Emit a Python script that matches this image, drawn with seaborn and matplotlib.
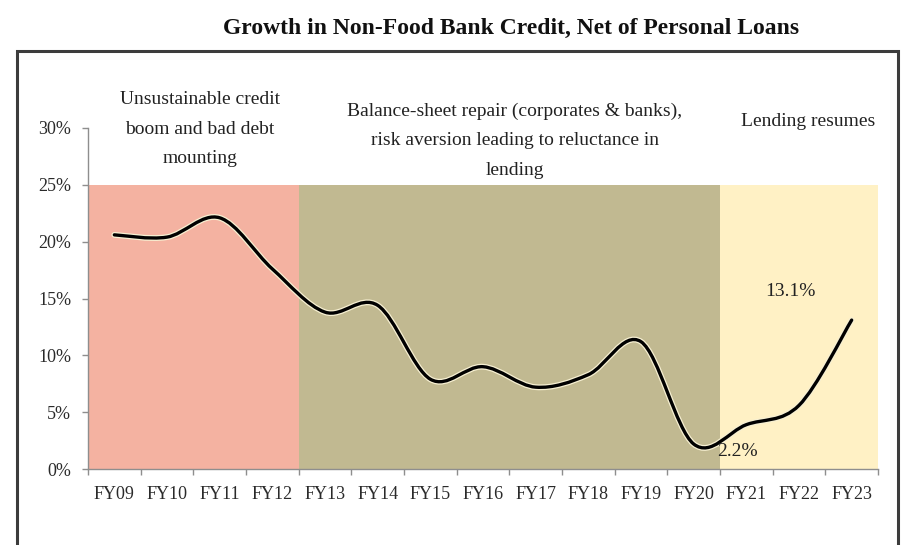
import matplotlib
matplotlib.use("Agg")
import matplotlib.pyplot as plt
import matplotlib.patheffects as pe
from matplotlib.path import Path
from matplotlib.patches import PathPatch, Rectangle
import numpy as np
import pandas as pd
import seaborn as sns

# Fiscal years and non-food bank credit growth net of personal loans (%)
years = ["FY09", "FY10", "FY11", "FY12", "FY13", "FY14", "FY15", "FY16",
         "FY17", "FY18", "FY19", "FY20", "FY21", "FY22", "FY23"]
growth = [20.6, 20.4, 22.1, 17.6, 13.8, 14.4, 7.9, 9.0,
          7.2, 8.3, 11.2, 2.2, 3.9, 5.6, 13.1]

# Lending phases and how many years each covers
phase_names = ["Unsustainable credit\nboom and bad debt\nmounting",
               "Balance-sheet repair (corporates & banks),\nrisk aversion leading to reluctance in\nlending",
               "Lending resumes"]
phase_years = [4, 8, 3]
phase_colors = ["#F4B2A1", "#C1B991", "#FFF1C5"]
band_top = 25

y_ticks = [0, 5, 10, 15, 20, 25, 30]
y_tick_labels = ["0%", "5%", "10%", "15%", "20%", "25%", "30%"]

sns.set_theme(style="white")
plt.rcParams["font.family"] = ["Liberation Serif", "DejaVu Serif"]

fig = plt.figure(figsize=(9.05, 5.45), dpi=100)
ax = fig.add_axes([88 / 905, 1 - 469 / 545, 790 / 905, 341 / 545])

# Shaded phase bands drawn as full-width bars
phase_of_year = [i for i, n in enumerate(phase_years) for _ in range(n)]
df = pd.DataFrame({"year": years, "band": [band_top] * len(years),
                   "phase": [str(p) for p in phase_of_year]})
sns.barplot(data=df, x="year", y="band", hue="phase", palette=phase_colors,
            dodge=False, width=1.0, saturation=1, legend=False,
            linewidth=0, ax=ax, zorder=1)

# Smoothed growth line (Catmull-Rom style cubic Bezier through each point)
x = np.arange(len(growth), dtype=float)
y = np.array(growth, dtype=float)
verts = [(x[0], y[0])]
codes = [Path.MOVETO]
n = len(x)
for i in range(n - 1):
    p0 = np.array([x[max(i - 1, 0)], y[max(i - 1, 0)]])
    p1 = np.array([x[i], y[i]])
    p2 = np.array([x[i + 1], y[i + 1]])
    p3 = np.array([x[min(i + 2, n - 1)], y[min(i + 2, n - 1)]])
    c1 = p1 + (p2 - p0) / 6.0
    c2 = p2 - (p3 - p1) / 6.0
    verts += [tuple(c1), tuple(c2), tuple(p2)]
    codes += [Path.CURVE4] * 3
curve = PathPatch(Path(verts, codes), fill=False, edgecolor="black",
                  linewidth=2.4, capstyle="round", joinstyle="round", zorder=3)
curve.set_path_effects([pe.Stroke(linewidth=4.2, foreground="#F7F0D2"), pe.Normal()])
ax.add_patch(curve)

ax.set_xlim(-0.5, len(years) - 0.5)
ax.set_ylim(0, 30)
ax.set_xlabel("")
ax.set_ylabel("")

# Axes styling
for side in ["top", "right"]:
    ax.spines[side].set_visible(False)
for side in ["left", "bottom"]:
    ax.spines[side].set_color("#8E8E8E")
    ax.spines[side].set_linewidth(1.0)

ax.set_yticks(y_ticks)
ax.set_yticklabels(y_tick_labels)
ax.tick_params(axis="y", which="major", left=True, length=4, width=1,
               color="#8E8E8E", labelsize=13, labelcolor="#2A2A2A", pad=8)

ax.set_xticks(np.arange(-0.5, len(years), 1.0))
ax.set_xticklabels([])
ax.set_xticks(np.arange(len(years)), minor=True)
ax.set_xticklabels(years, minor=True)
ax.tick_params(axis="x", which="major", bottom=True, length=4, width=1,
               color="#8E8E8E")
ax.tick_params(axis="x", which="minor", bottom=False, length=0,
               labelsize=13, labelcolor="#2A2A2A", pad=12)

# Phase descriptions above the bands
ax.text(1.63, 29.9, phase_names[0], ha="center", va="center", fontsize=14,
        color="#222222", linespacing=1.95, clip_on=False)
ax.text(7.6, 28.9, phase_names[1], ha="center", va="center", fontsize=14,
        color="#222222", linespacing=1.95, clip_on=False)
ax.text(13.17, 30.6, phase_names[2], ha="center", va="center", fontsize=14,
        color="#222222", clip_on=False)

# Value labels
ax.text(12.84, 15.6, f"{growth[-1]:.1f}%", ha="center", va="center",
        fontsize=14, color="#222222")
ax.text(11.84, 1.5, f"{growth[11]:.1f}%", ha="center", va="center",
        fontsize=14, color="#222222", zorder=4)

# Title and outer frame
fig.text(511 / 905, 1 - 28 / 545,
         "Growth in Non-Food Bank Credit, Net of Personal Loans",
         ha="center", va="center", fontsize=17, fontweight="bold",
         color="#111111")
fig.patches.append(Rectangle((17 / 905, -0.05), 881 / 905, 1.05 - 51 / 545,
                             transform=fig.transFigure, fill=False,
                             edgecolor="#3C3C3C", linewidth=2.2))

fig.savefig("out.png", dpi=100, facecolor="white")
